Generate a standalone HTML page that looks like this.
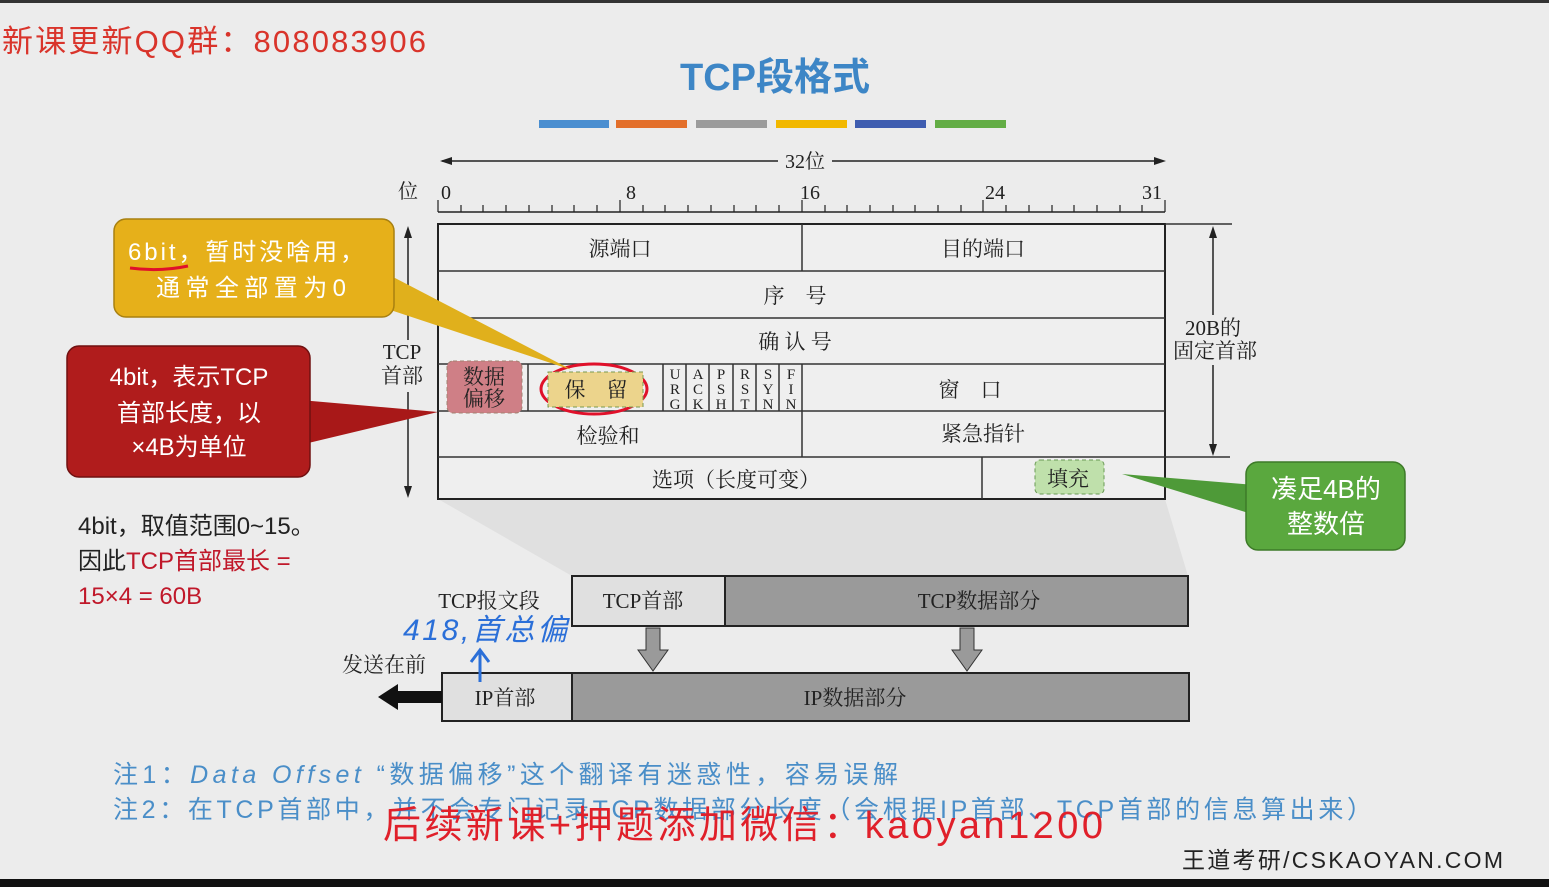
<!DOCTYPE html>
<html><head><meta charset="utf-8"><style>
body{margin:0;width:1549px;height:887px;overflow:hidden;background:#ececec}
svg{display:block}
text{font-family:"Liberation Serif","Noto Serif CJK SC",serif}
text.s,.s text,.s tspan{font-family:"Liberation Sans","Noto Sans CJK SC",sans-serif}
</style></head><body>
<svg width="1549" height="887" viewBox="0 0 1549 887">
<rect x="0" y="0" width="1549" height="887" fill="#ececec"/>
<rect x="0" y="0" width="1549" height="3" fill="#333"/>
<rect x="0" y="879" width="1549" height="8" fill="#111"/>
<text x="2" y="52" class="s" font-size="31" fill="#d9342b" textLength="424">新课更新QQ群：808083906</text>
<text x="775" y="90" class="s" font-size="38" font-weight="bold" fill="#3d86c6" text-anchor="middle">TCP段格式</text>
<g>
<rect x="539" y="120" width="70" height="8" fill="#4a8ed0"/>
<rect x="616" y="120" width="71" height="8" fill="#e36f2a"/>
<rect x="696" y="120" width="71" height="8" fill="#9b9b9b"/>
<rect x="776" y="120" width="71" height="8" fill="#f2b800"/>
<rect x="855" y="120" width="71" height="8" fill="#3f5db0"/>
<rect x="935" y="120" width="71" height="8" fill="#63ad45"/>
</g>
<polygon points="438,499 1165,499 1188,576 572,576" fill="#dcdcdc" opacity="0.7"/>
<line x1="442" y1="161" x2="778" y2="161" stroke="#222" stroke-width="1.5"/>
<line x1="832" y1="161" x2="1163" y2="161" stroke="#222" stroke-width="1.5"/>
<polygon points="440,161 452,157 452,165" fill="#222"/>
<polygon points="1166,161 1154,157 1154,165" fill="#222"/>
<text x="805" y="168" font-size="20" text-anchor="middle" fill="#222">32位</text>
<text x="408" y="198" font-size="20" text-anchor="middle" fill="#222">位</text>
<g font-size="20" fill="#222">
<text x="441" y="199">0</text><text x="626" y="199">8</text><text x="800" y="199">16</text><text x="985" y="199">24</text><text x="1142" y="199">31</text>
</g>
<line x1="438" y1="212" x2="1165" y2="212" stroke="#222" stroke-width="1.5"/>
<g stroke="#222" stroke-width="1.2">
<line x1="438" y1="200" x2="438" y2="212"/><line x1="1165" y1="200" x2="1165" y2="212"/>
<line x1="620" y1="200" x2="620" y2="212"/><line x1="802" y1="200" x2="802" y2="212"/><line x1="983" y1="200" x2="983" y2="212"/>
<line x1="461" y1="205" x2="461" y2="212"/><line x1="483" y1="205" x2="483" y2="212"/><line x1="506" y1="205" x2="506" y2="212"/><line x1="529" y1="205" x2="529" y2="212"/><line x1="552" y1="205" x2="552" y2="212"/><line x1="574" y1="205" x2="574" y2="212"/><line x1="597" y1="205" x2="597" y2="212"/>
<line x1="643" y1="205" x2="643" y2="212"/><line x1="665" y1="205" x2="665" y2="212"/><line x1="688" y1="205" x2="688" y2="212"/><line x1="711" y1="205" x2="711" y2="212"/><line x1="734" y1="205" x2="734" y2="212"/><line x1="756" y1="205" x2="756" y2="212"/><line x1="779" y1="205" x2="779" y2="212"/>
<line x1="825" y1="205" x2="825" y2="212"/><line x1="847" y1="205" x2="847" y2="212"/><line x1="870" y1="205" x2="870" y2="212"/><line x1="893" y1="205" x2="893" y2="212"/><line x1="915" y1="205" x2="915" y2="212"/><line x1="938" y1="205" x2="938" y2="212"/><line x1="961" y1="205" x2="961" y2="212"/>
<line x1="1006" y1="205" x2="1006" y2="212"/><line x1="1029" y1="205" x2="1029" y2="212"/><line x1="1052" y1="205" x2="1052" y2="212"/><line x1="1074" y1="205" x2="1074" y2="212"/><line x1="1097" y1="205" x2="1097" y2="212"/><line x1="1120" y1="205" x2="1120" y2="212"/><line x1="1142" y1="205" x2="1142" y2="212"/>
</g>
<rect x="438" y="224" width="727" height="275" fill="#efefef" stroke="#222" stroke-width="2"/>
<g stroke="#333" stroke-width="1.5">
<line x1="438" y1="271" x2="1165" y2="271"/><line x1="438" y1="318" x2="1165" y2="318"/>
<line x1="438" y1="364" x2="1165" y2="364"/><line x1="438" y1="411" x2="1165" y2="411"/>
<line x1="438" y1="457" x2="1230" y2="457"/>
<line x1="802" y1="224" x2="802" y2="271"/><line x1="802" y1="364" x2="802" y2="457"/>
<line x1="528" y1="364" x2="528" y2="411"/><line x1="663" y1="364" x2="663" y2="411"/>
<line x1="686" y1="364" x2="686" y2="411"/><line x1="709" y1="364" x2="709" y2="411"/><line x1="733" y1="364" x2="733" y2="411"/><line x1="756" y1="364" x2="756" y2="411"/><line x1="779" y1="364" x2="779" y2="411"/>
<line x1="982" y1="457" x2="982" y2="499"/>
<line x1="1165" y1="224" x2="1232" y2="224"/>
</g>
<rect x="447" y="361" width="75" height="52" rx="6" fill="#cf7f86" stroke="#a08070" stroke-dasharray="4,3"/>
<ellipse cx="594" cy="389" rx="53" ry="25" fill="none" stroke="#e0102a" stroke-width="3"/>
<rect x="548" y="372" width="95" height="35" fill="#ecd48c" stroke="#7a9a50" stroke-dasharray="4,3"/>
<rect x="1035" y="460" width="69" height="34" rx="5" fill="#bfe0ab" stroke="#6a9a55" stroke-dasharray="4,3"/>
<g font-size="21" fill="#222" text-anchor="middle">
<text x="620" y="256">源端口</text><text x="983" y="256">目的端口</text>
<text x="795" y="303">序　号</text><text x="795" y="349">确 认 号</text>
<text x="484" y="384">数据</text><text x="484" y="406">偏移</text>
<text x="596" y="397">保　留</text>
<text x="970" y="397">窗　口</text>
<text x="608" y="443">检验和</text><text x="983" y="441">紧急指针</text>
<text x="736" y="487">选项（长度可变）</text>
<text x="1068" y="486">填充</text>
<text x="402" y="359">TCP</text><text x="402" y="383">首部</text>
<text x="1213" y="335">20B的</text><text x="1215" y="358">固定首部</text>
</g>
<g font-size="15" fill="#222" text-anchor="middle">
<text x="675" y="379">U</text><text x="675" y="394">R</text><text x="675" y="409">G</text>
<text x="698" y="379">A</text><text x="698" y="394">C</text><text x="698" y="409">K</text>
<text x="721" y="379">P</text><text x="721" y="394">S</text><text x="721" y="409">H</text>
<text x="745" y="379">R</text><text x="745" y="394">S</text><text x="745" y="409">T</text>
<text x="768" y="379">S</text><text x="768" y="394">Y</text><text x="768" y="409">N</text>
<text x="791" y="379">F</text><text x="791" y="394">I</text><text x="791" y="409">N</text>
</g>
<line x1="408" y1="230" x2="408" y2="340" stroke="#222" stroke-width="1.5"/>
<line x1="408" y1="392" x2="408" y2="494" stroke="#222" stroke-width="1.5"/>
<polygon points="408,226 404,238 412,238" fill="#222"/><polygon points="408,498 404,486 412,486" fill="#222"/>
<line x1="1213" y1="230" x2="1213" y2="315" stroke="#222" stroke-width="1.5"/>
<line x1="1213" y1="365" x2="1213" y2="453" stroke="#222" stroke-width="1.5"/>
<polygon points="1213,226 1209,238 1217,238" fill="#222"/><polygon points="1213,456 1209,444 1217,444" fill="#222"/>
<polygon points="360,300 395,278 572,370" fill="#e0b01c"/>
<rect x="114" y="219" width="280" height="98" rx="12" fill="#e6b01a" stroke="#a88010" stroke-width="1.5"/>
<text x="128" y="260" class="s" font-size="24" fill="#fff" textLength="236">6bit，暂时没啥用，</text>
<text x="156" y="296" class="s" font-size="24" fill="#fff" textLength="190">通常全部置为0</text>
<path d="M130 268 Q160 272 188 266" stroke="#e0102a" stroke-width="3" fill="none"/>
<polygon points="300,400 300,445 438,412" fill="#a81818"/>
<rect x="67" y="346" width="243" height="131" rx="12" fill="#b01c1c" stroke="#701010" stroke-width="1.5"/>
<g class="s" font-size="24" fill="#fff" text-anchor="middle">
<text x="189" y="385">4bit，表示TCP</text><text x="189" y="421">首部长度，以</text><text x="189" y="455">×4B为单位</text>
</g>
<polygon points="1122,474 1255,485 1255,515" fill="#4e9a38"/>
<rect x="1246" y="462" width="159" height="88" rx="12" fill="#5aa83e" stroke="#3d7a28" stroke-width="1.5"/>
<text x="1326" y="498" class="s" font-size="26" fill="#fff" text-anchor="middle">凑足4B的</text>
<text x="1326" y="533" class="s" font-size="26" fill="#fff" text-anchor="middle">整数倍</text>
<g class="s" font-size="24">
<text x="78" y="534" fill="#222">4bit，取值范围0~15。</text>
<text x="78" y="569" fill="#222">因此<tspan fill="#c0182a">TCP首部最长 =</tspan></text>
<text x="78" y="604" fill="#c0182a">15×4 = 60B</text>
</g>
<rect x="572" y="576" width="153" height="50" fill="#e0e0e0" stroke="#222" stroke-width="2"/>
<rect x="725" y="576" width="463" height="50" fill="#9a9a9a" stroke="#222" stroke-width="2"/>
<rect x="442" y="673" width="130" height="48" fill="#e0e0e0" stroke="#222" stroke-width="2"/>
<rect x="572" y="673" width="617" height="48" fill="#9a9a9a" stroke="#222" stroke-width="2"/>
<g font-size="21" fill="#222" text-anchor="middle">
<text x="643" y="608">TCP首部</text><text x="979" y="608">TCP数据部分</text>
<text x="505" y="705">IP首部</text><text x="855" y="705">IP数据部分</text>
<text x="489" y="608">TCP报文段</text><text x="384" y="672">发送在前</text>
</g>
<polygon points="646,628 660,628 660,650 668,650 653,671 638,650 646,650" fill="#9a9a9a" stroke="#333"/>
<polygon points="960,628 974,628 974,650 982,650 967,671 952,650 960,650" fill="#9a9a9a" stroke="#333"/>
<polygon points="378,697 398,684 398,691 442,691 442,703 398,703 398,710" fill="#111"/>
<text x="403" y="640" class="s" font-size="30" font-style="italic" fill="#2b6fd8" textLength="164">418,首总偏</text>
<line x1="480" y1="682" x2="480" y2="652" stroke="#2b6fd8" stroke-width="3"/>
<path d="M471 662 L480 650 L489 662" stroke="#2b6fd8" stroke-width="3" fill="none"/>
<g class="s" font-size="25" fill="#4a8ec8">
<text x="113" y="783" textLength="785">注1：<tspan font-style="italic">Data Offset</tspan> “数据偏移”这个翻译有迷惑性，容易误解</text>
<text x="113" y="818" textLength="1259">注2：在TCP首部中，并不会专门记录TCP数据部分长度（会根据IP首部、TCP首部的信息算出来）</text>
</g>
<text x="383" y="838" class="s" font-size="38" fill="#e0202a" textLength="720">后续新课+押题添加微信：kaoyan1200</text>
<text x="1182" y="868" class="s" font-size="23" fill="#222" textLength="321">王道考研/CSKAOYAN.COM</text>
</svg>
</body></html>
